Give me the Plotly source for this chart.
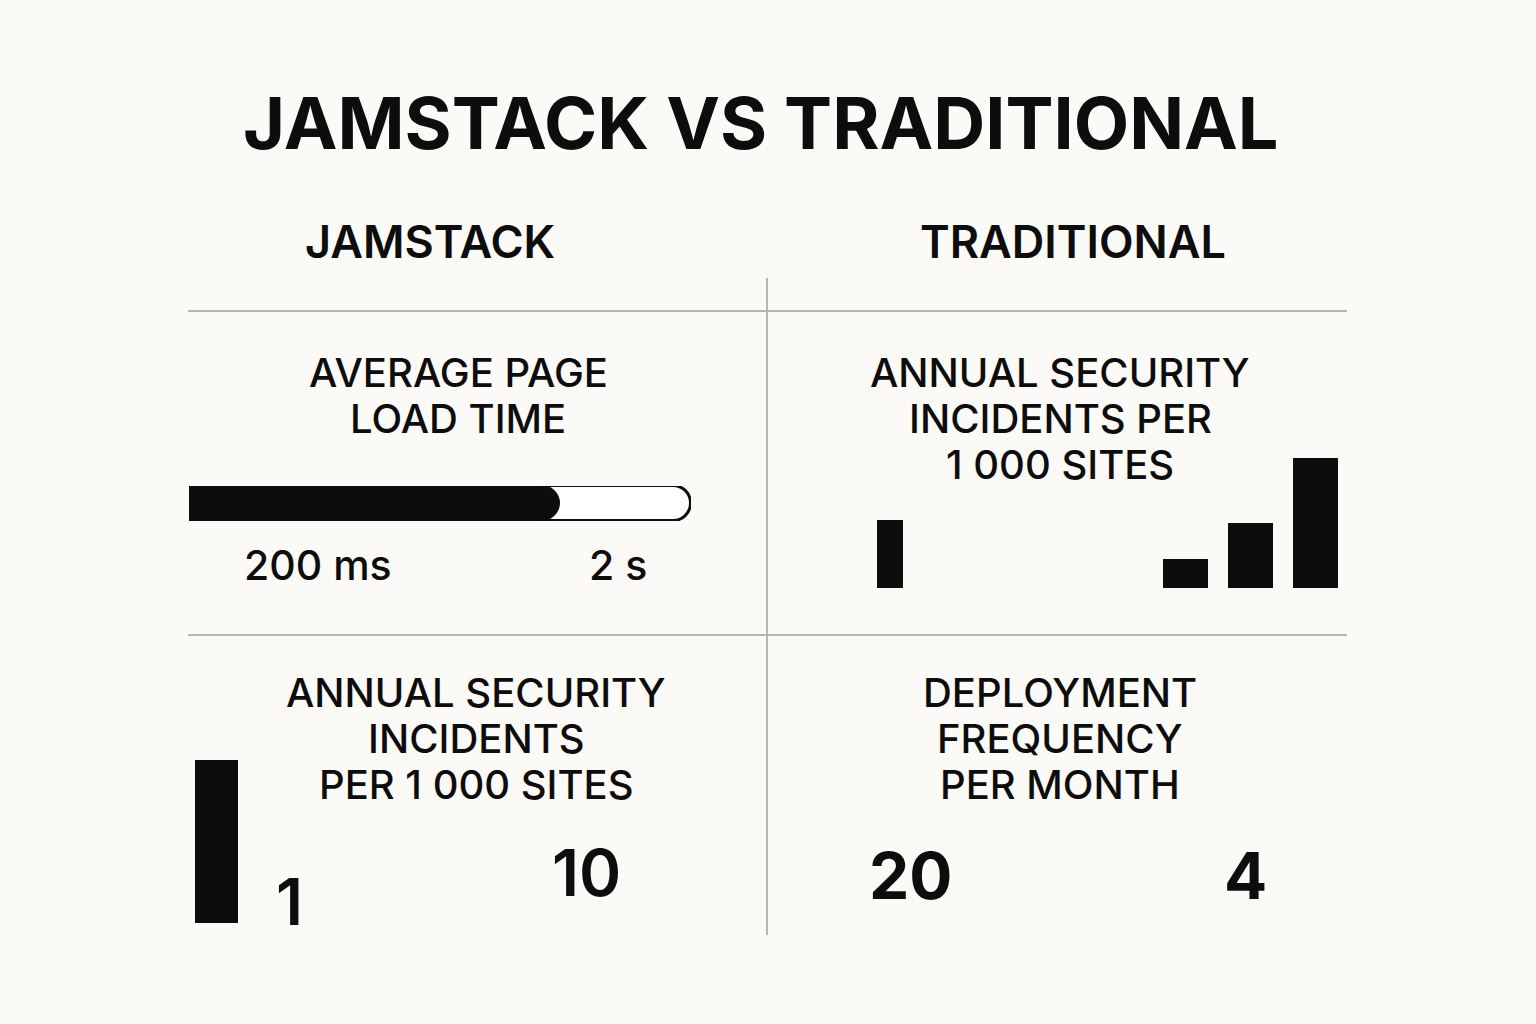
import plotly.graph_objects as go

# ---------------- data ----------------
title_text = "JAMSTACK VS TRADITIONAL"
column_headers = ["JAMSTACK", "TRADITIONAL"]

load_title = ["AVERAGE PAGE", "LOAD TIME"]
load_fill = 0.74          # filled share of the load-time gauge
load_max = 1.0
load_labels = ["200 ms", "2 s"]

trad_sec_title = ["ANNUAL SECURITY", "INCIDENTS PER", "1 000 SITES"]
trad_sec_values = [2.1, 0.9, 2.0, 4.0]

jam_sec_title = ["ANNUAL SECURITY", "INCIDENTS", "PER 1 000 SITES"]
jam_sec_bar = [10]
jam_sec_numbers = ["1", "10"]

deploy_title = ["DEPLOYMENT", "FREQUENCY", "PER MONTH"]
deploy_numbers = ["20", "4"]

# ---------------- layout helpers ----------------
W, H = 1536, 1024
BG = "#fbfaf7"
INK = "#0d0d0d"
FONT = "Inter"

def fx(x):
    return x / W

def fy(y):
    return 1 - y / H

bar_slots = [0, 4.55, 5.55, 6.55]
bar_widths = [0.4, 0.7, 0.7, 0.7]

fig = go.Figure()

# progress gauge: outline (x/y) and fill (x4/y4)
fig.add_trace(go.Bar(x=[load_max], y=[0], orientation="h", width=1,
                     marker=dict(color="#ffffff", line=dict(color=INK, width=3), cornerradius="50%"),
                     xaxis="x", yaxis="y", hoverinfo="skip", showlegend=False))

# traditional security bars (xaxis2 / yaxis2)
fig.add_trace(go.Bar(x=bar_slots, y=trad_sec_values, width=bar_widths,
                     marker=dict(color=INK, line=dict(width=0)),
                     xaxis="x2", yaxis="y2", hoverinfo="skip", showlegend=False))

# jamstack security bar (xaxis3 / yaxis3)
fig.add_trace(go.Bar(x=[0], y=jam_sec_bar, width=1,
                     marker=dict(color=INK, line=dict(width=0)),
                     xaxis="x3", yaxis="y3", hoverinfo="skip", showlegend=False))

fig.add_trace(go.Bar(x=[load_fill], y=[0], orientation="h", width=1,
                     marker=dict(color=INK, line=dict(color=INK, width=1), cornerradius="50%"),
                     xaxis="x4", yaxis="y4", hoverinfo="skip", showlegend=False))

hidden = dict(visible=False, showgrid=False, zeroline=False, fixedrange=True)

fig.update_layout(
    width=W, height=H,
    paper_bgcolor=BG, plot_bgcolor="rgba(0,0,0,0)",
    margin=dict(l=0, r=0, t=0, b=0),
    bargap=0,
    showlegend=False,
    xaxis=dict(domain=[fx(189), fx(691)], range=[0, load_max], **hidden),
    yaxis=dict(domain=[fy(521), fy(486)], range=[-0.5, 0.5], **hidden),
    xaxis2=dict(domain=[fx(860), fx(1350)], range=[-0.46, 7.08], **hidden),
    yaxis2=dict(domain=[fy(588), fy(455)], range=[0, 4.1], **hidden),
    xaxis3=dict(domain=[fx(195), fx(238)], range=[-0.5, 0.5], **hidden),
    yaxis3=dict(domain=[fy(923), fy(760)], range=[0, max(jam_sec_bar)], **hidden),
    xaxis4=dict(domain=[fx(189), fx(691)], range=[0, load_max], **hidden),
    yaxis4=dict(domain=[fy(521), fy(486)], range=[-0.5, 0.5], **hidden),
)

# divider lines
line_style = dict(color="#b5b5b5", width=2)
shapes = [
    dict(type="line", xref="paper", yref="paper", x0=fx(767), x1=fx(767), y0=fy(278), y1=fy(935), line=line_style),
    dict(type="line", xref="paper", yref="paper", x0=fx(188), x1=fx(1347), y0=fy(311), y1=fy(311), line=line_style),
    dict(type="line", xref="paper", yref="paper", x0=fx(188), x1=fx(1347), y0=fy(635), y1=fy(635), line=line_style),
]
fig.update_layout(shapes=shapes)

annotations = []

def txt(text, x, y, size, weight=500, anchor="center"):
    annotations.append(dict(
        text=text, x=fx(x), y=fy(y), xref="paper", yref="paper",
        xanchor=anchor, yanchor="middle", showarrow=False,
        font=dict(family=FONT, size=size, color=INK, weight=weight),
    ))

txt(title_text, 761, 122, 72, 700)
txt(column_headers[0], 430, 241, 45, 600)
txt(column_headers[1], 1073, 241, 45, 600)

for i, line in enumerate(load_title):
    txt(line, 458, 372 + 46 * i, 40, 500)
txt(load_labels[0], 318, 565, 41, 500)
txt(load_labels[1], 618, 565, 41, 500)

for i, line in enumerate(trad_sec_title):
    txt(line, 1060, 372 + 46 * i, 40, 500)

for i, line in enumerate(jam_sec_title):
    txt(line, 476, 692 + 46 * i, 40, 500)
txt(jam_sec_numbers[0], 289, 901, 64, 600)
txt(jam_sec_numbers[1], 586, 872, 64, 600)

for i, line in enumerate(deploy_title):
    txt(line, 1060, 692 + 46 * i, 40, 500)
txt(deploy_numbers[0], 910, 875, 64, 700)
txt(deploy_numbers[1], 1245, 875, 64, 700)

fig.update_layout(annotations=annotations)

fig.write_html(
    "out.html",
    config={"displayModeBar": False},
    post_script="document.body.style.margin='0';document.body.style.background='" + BG + "';",
)
